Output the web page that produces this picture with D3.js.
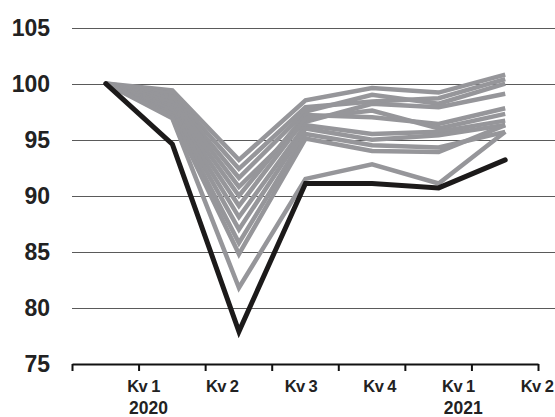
<!DOCTYPE html>
<html><head><meta charset="utf-8">
<script src="https://cdn.jsdelivr.net/npm/d3@7"></script>
<style>body{margin:0;background:#fff}svg{display:block}</style>
</head><body>
<script>
const periods = ["Q4 2019","Q1 2020","Q2 2020","Q3 2020","Q4 2020","Q1 2021","Q2 2021"];
const quarterLabels = ["Kv 1","Kv 2","Kv 3","Kv 4","Kv 1","Kv 2"];
const yearLabels = ["2020","","","","2021",""];
const yTicks = [75,80,85,90,95,100,105];

const g1  = [100, 99.4, 93.2, 98.5, 99.6, 99.2, 100.8];
const g2  = [100, 99.1, 92.4, 97.9, 98.4, 98.7, 100.4];
const g3  = [100, 98.8, 91.6, 97.5, 99.0, 98.2, 100.0];
const g4  = [100, 98.6, 90.8, 96.6, 98.2, 97.9, 99.1];
const g5  = [100, 98.3, 90.0, 97.2, 97.0, 96.4, 97.8];
const g6  = [100, 98.0, 89.1, 96.9, 97.6, 96.0, 97.3];
const g7  = [100, 97.8, 88.1, 96.3, 95.5, 95.7, 96.7];
const g8  = [100, 97.6, 87.0, 96.0, 95.0, 95.4, 96.3];
const g9  = [100, 97.3, 85.8, 95.5, 94.5, 94.3, 95.7];
const g10 = [100, 97.1, 84.8, 95.1, 94.0, 93.9, 96.3];
const g11 = [100, 96.9, 81.8, 91.5, 92.8, 91.1, 95.7];
const black = [100, 94.6, 77.9, 91.1, 91.1, 90.7, 93.2];

const grayLines = [g1,g2,g3,g4,g5,g6,g7,g8,g9,g10,g11];

const W = 555, H = 417;
const svg = d3.select("body").append("svg").attr("width", W).attr("height", H);

const x = d3.scaleBand().domain(periods).range([72.5, 538.5]).padding(0);
const y = d3.scaleLinear().domain([75, 105]).range([364, 27.5]);
const xl = d3.scalePoint().domain(d3.range(quarterLabels.length)).range([143.5, 537]);

// gridlines
svg.append("g").selectAll("line").data(yTicks.filter(d => d > 75)).join("line")
  .attr("x1", 72).attr("x2", W)
  .attr("y1", d => Math.round(y(d)) + 0.5).attr("y2", d => Math.round(y(d)) + 0.5)
  .attr("stroke", "#5a5a5a").attr("stroke-width", 1.2);

// y labels
svg.append("g").selectAll("text").data(yTicks).join("text")
  .attr("x", 50).attr("y", d => y(d)).attr("dy", "0.36em")
  .attr("text-anchor", "end")
  .style("font-family", "'Liberation Sans', Arial, sans-serif")
  .style("font-weight", "bold").style("font-size", "23px").attr("fill", "#222")
  .text(d => d);

// x axis line and ticks
const xEdges = periods.map(p => x(p)).concat([x(periods[periods.length - 1]) + x.bandwidth()]);
svg.append("line").attr("x1", xEdges[0]).attr("x2", xEdges[xEdges.length - 1])
  .attr("y1", 364.5).attr("y2", 364.5).attr("stroke", "#111").attr("stroke-width", 2);
svg.append("g").selectAll("line").data(xEdges).join("line")
  .attr("x1", d => d).attr("x2", d => d).attr("y1", 364).attr("y2", 371)
  .attr("stroke", "#111").attr("stroke-width", 2);

// x labels
svg.append("g").selectAll("text").data(quarterLabels).join("text")
  .attr("x", (d, i) => xl(i)).attr("y", 391.5)
  .attr("text-anchor", "middle")
  .style("font-family", "'Liberation Sans', Arial, sans-serif")
  .style("font-weight", "bold").style("font-size", "16.5px").style("letter-spacing", "-0.6px")
  .attr("fill", "#222").text(d => d);
svg.append("g").selectAll("text").data(yearLabels).join("text")
  .attr("x", (d, i) => xl(i) + 5).attr("y", 413.5)
  .attr("text-anchor", "middle")
  .style("font-family", "'Liberation Sans', Arial, sans-serif")
  .style("font-weight", "bold").style("font-size", "17.5px")
  .attr("fill", "#222").text(d => d);

const line = d3.line().x((d, i) => x(periods[i]) + x.bandwidth() / 2).y(d => y(d));

svg.append("g").selectAll("path").data(grayLines).join("path")
  .attr("d", line).attr("fill", "none").attr("stroke", "#96969a")
  .attr("stroke-width", 4.5).attr("stroke-linejoin", "miter");

svg.append("path").datum(black).attr("d", line).attr("fill", "none")
  .attr("stroke", "#1c1a1a").attr("stroke-width", 5).attr("stroke-linejoin", "miter")
  .attr("stroke-linecap", "round");
</script>
</body></html>
